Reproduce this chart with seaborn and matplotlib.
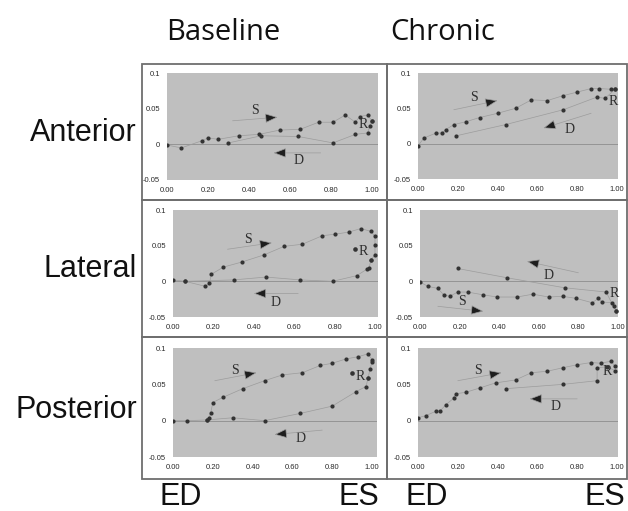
import pandas as pd
import seaborn as sns
import matplotlib.pyplot as plt
from matplotlib.patches import Rectangle

# ---- data (x = normalised time ED->ES, y = strain) ----
base_ant_sx = [0.00, 0.07, 0.17, 0.20, 0.25, 0.35, 0.45, 0.55, 0.65, 0.74, 0.81, 0.87, 0.92, 0.94, 0.98, 1.00]
base_ant_sy = [-0.001, -0.005, 0.005, 0.009, 0.007, 0.012, 0.014, 0.020, 0.021, 0.031, 0.031, 0.041, 0.031, 0.039, 0.041, 0.033]
base_ant_dx = [1.00, 0.99, 0.98, 0.92, 0.81, 0.64, 0.46, 0.30]
base_ant_dy = [0.033, 0.026, 0.016, 0.014, 0.002, 0.011, 0.012, 0.002]

chron_ant_sx = [0.00, 0.03, 0.09, 0.12, 0.14, 0.18, 0.24, 0.31, 0.40, 0.49, 0.57, 0.65, 0.73, 0.80, 0.87, 0.91, 0.97, 0.99]
chron_ant_sy = [-0.003, 0.008, 0.015, 0.015, 0.020, 0.027, 0.031, 0.037, 0.043, 0.050, 0.062, 0.061, 0.068, 0.073, 0.078, 0.078, 0.077, 0.077]
chron_ant_dx = [0.99, 0.94, 0.90, 0.73, 0.44, 0.19]
chron_ant_dy = [0.077, 0.064, 0.066, 0.048, 0.027, 0.011]

base_lat_sx = [0.00, 0.06, 0.16, 0.18, 0.19, 0.25, 0.34, 0.45, 0.55, 0.64, 0.74, 0.80, 0.87, 0.93, 0.98, 1.00, 1.00, 1.00, 0.98]
base_lat_sy = [0.002, 0.000, -0.007, -0.003, 0.010, 0.020, 0.027, 0.037, 0.049, 0.052, 0.064, 0.066, 0.069, 0.074, 0.070, 0.063, 0.051, 0.037, 0.030]
base_lat_dx = [0.98, 0.97, 0.96, 0.91, 0.79, 0.63, 0.46, 0.30, 0.06]
base_lat_dy = [0.030, 0.018, 0.017, 0.008, 0.000, 0.002, 0.006, 0.002, 0.000]

chron_lat_sx = [0.00, 0.04, 0.09, 0.12, 0.15, 0.19, 0.24, 0.32, 0.39, 0.49, 0.57, 0.65, 0.72, 0.79, 0.87, 0.90, 0.92, 0.97, 0.98, 0.99]
chron_lat_sy = [-0.001, -0.007, -0.010, -0.019, -0.021, -0.015, -0.015, -0.019, -0.022, -0.022, -0.018, -0.022, -0.021, -0.024, -0.030, -0.024, -0.029, -0.030, -0.035, -0.042]
chron_lat_dx = [0.99, 0.94, 0.73, 0.44, 0.19]
chron_lat_dy = [-0.042, -0.015, -0.009, 0.005, 0.018]

base_post_sx = [0.00, 0.07, 0.17, 0.18, 0.19, 0.20, 0.25, 0.35, 0.46, 0.55, 0.65, 0.74, 0.80, 0.87, 0.93, 0.98, 1.00, 1.00, 0.99, 0.98]
base_post_sy = [0.000, 0.000, 0.001, 0.003, 0.011, 0.025, 0.032, 0.044, 0.055, 0.063, 0.066, 0.076, 0.079, 0.085, 0.088, 0.092, 0.084, 0.081, 0.071, 0.059]
base_post_dx = [0.98, 0.97, 0.92, 0.80, 0.64, 0.46, 0.30, 0.17]
base_post_dy = [0.059, 0.047, 0.040, 0.020, 0.010, 0.000, 0.004, 0.001]

chron_post_sx = [0.00, 0.04, 0.09, 0.11, 0.14, 0.18, 0.19, 0.24, 0.31, 0.39, 0.49, 0.57, 0.65, 0.73, 0.80, 0.87, 0.92, 0.97, 0.99]
chron_post_sy = [0.004, 0.007, 0.013, 0.013, 0.022, 0.031, 0.037, 0.039, 0.045, 0.052, 0.056, 0.066, 0.068, 0.073, 0.077, 0.080, 0.079, 0.082, 0.075]
chron_post_dx = [0.99, 0.95, 0.90, 0.90, 0.73, 0.44]
chron_post_dy = [0.069, 0.074, 0.073, 0.055, 0.050, 0.044]

# R marker dot (None if no dot) and the S / D / R label positions per panel
r_dots = [None, None, (0.90, 0.045), None, (0.90, 0.066), None]
r_text = [(0.96, 0.028), (0.98, 0.060), (0.94, 0.042), (0.98, -0.017), (0.94, 0.061), (0.95, 0.067)]
s_text = [(0.43, 0.047), (0.28, 0.066), (0.37, 0.058), (0.21, -0.028), (0.31, 0.069), (0.30, 0.069)]
d_text = [(0.64, -0.023), (0.76, 0.020), (0.51, -0.029), (0.65, 0.008), (0.64, -0.024), (0.69, 0.019)]
# arrows as (tail, head)
s_arrow = [((0.32, 0.033), (0.54, 0.038)), ((0.18, 0.048), (0.40, 0.061)), ((0.27, 0.045), (0.49, 0.054)),
           ((0.09, -0.035), (0.32, -0.042)), ((0.21, 0.055), (0.42, 0.066)), ((0.20, 0.055), (0.42, 0.066))]
d_arrow = [((0.75, -0.012), (0.52, -0.012)), ((0.87, 0.043), (0.63, 0.022)), ((0.62, -0.017), (0.40, -0.017)),
           ((0.80, 0.012), (0.54, 0.028)), ((0.75, -0.013), (0.51, -0.019)), ((0.80, 0.030), (0.56, 0.030))]

col_titles = ["Baseline", "Chronic"]
row_titles = ["Anterior", "Lateral", "Posterior"]
x_ticks = [0.0, 0.2, 0.4, 0.6, 0.8, 1.0]
x_ticklabels = ["0.00", "0.20", "0.40", "0.60", "0.80", "1.00"]
y_ticks = [0.1, 0.05, 0.0, -0.05]
y_ticklabels = ["0.1", "0.05", "0", "-0.05"]

panels = [
    (base_ant_sx, base_ant_sy, base_ant_dx, base_ant_dy),
    (chron_ant_sx, chron_ant_sy, chron_ant_dx, chron_ant_dy),
    (base_lat_sx, base_lat_sy, base_lat_dx, base_lat_dy),
    (chron_lat_sx, chron_lat_sy, chron_lat_dx, chron_lat_dy),
    (base_post_sx, base_post_sy, base_post_dx, base_post_dy),
    (chron_post_sx, chron_post_sy, chron_post_dx, chron_post_dy),
]

# ---- layout (pixels of a 628x511 canvas) ----
W, H = 628, 511
# gray plotting boxes: left, top, right, bottom
boxes = [(167, 73, 378, 180), (418, 73, 618, 179),
         (173, 210, 378, 317), (420, 210, 618, 317),
         (173, 348, 377, 457), (418, 348, 618, 457)]
xmax = [1.03, 1.005, 1.015, 1.0, 1.025, 1.005]
col_edges = [142, 387, 627]
row_edges = [64, 200, 337, 479]

sns.set_theme(style="white")
plt.rcParams['font.family'] = ['Liberation Sans', 'DejaVu Sans']

fig = plt.figure(figsize=(W / 100, H / 100), dpi=100)
fig.patch.set_facecolor("white")

# cell frames
for i in range(2):
    for j in range(3):
        x0, x1 = col_edges[i], col_edges[i + 1]
        y0, y1 = row_edges[j], row_edges[j + 1]
        fig.add_artist(Rectangle((x0 / W, 1 - y1 / H), (x1 - x0) / W, (y1 - y0) / H,
                                 transform=fig.transFigure, fill=False,
                                 edgecolor="#6e6e6e", linewidth=1.3))

gray = "#bfbfbf"
dot = "#333333"
faint = "#9c9c9c"

for k, (sx, sy, dx, dy) in enumerate(panels):
    l, t, r, b = boxes[k]
    ax = fig.add_axes([l / W, 1 - b / H, (r - l) / W, (b - t) / H])
    ax.set_facecolor(gray)
    for sp in ax.spines.values():
        sp.set_visible(False)

    ax.axhline(0, color="#949494", lw=0.7, zorder=1)
    sdf = pd.DataFrame({"x": sx, "y": sy})
    ddf = pd.DataFrame({"x": dx, "y": dy})
    sns.lineplot(data=sdf, x="x", y="y", sort=False, estimator=None, color=faint, lw=0.5, ax=ax, zorder=2)
    sns.lineplot(data=ddf, x="x", y="y", sort=False, estimator=None, color=faint, lw=0.5, ax=ax, zorder=2)
    pts = pd.concat([sdf, ddf])
    sns.scatterplot(data=pts, x="x", y="y", color=dot, s=9, linewidth=0, ax=ax, zorder=3)
    if r_dots[k] is not None:
        ax.scatter([r_dots[k][0]], [r_dots[k][1]], color=dot, s=11, linewidth=0, zorder=3)

    serif = dict(family=["Liberation Serif", "DejaVu Serif"], fontsize=10, color="#2e2e2e",
                 ha="center", va="center")
    ax.text(*s_text[k], "S", **serif)
    ax.text(*d_text[k], "D", **serif)
    ax.text(*r_text[k], "R", **serif)
    for tail, head in (s_arrow[k], d_arrow[k]):
        ax.annotate("", xy=head, xytext=tail,
                    arrowprops=dict(arrowstyle="-|>,head_length=0.65,head_width=0.25",
                                    fc="#1e1e1e", ec=faint, lw=0.5, shrinkA=0, shrinkB=0))

    ax.set_xlim(0, xmax[k])
    ax.set_ylim(-0.05, 0.1)
    ax.set_xticks(x_ticks)
    ax.set_xticklabels(x_ticklabels)
    ax.set_yticks(y_ticks)
    ax.set_yticklabels(y_ticklabels)
    ax.tick_params(length=0, labelsize=5.5, colors="#2a2a2a", pad=5)
    ax.set_xlabel("")
    ax.set_ylabel("")

# column / row titles and ED / ES marks
for xx, name in zip([166, 390], col_titles):
    fig.text(xx / W, 1 - 32 / H, name, fontsize=21, family=["Open Sans", "DejaVu Sans"],
             ha="left", va="center", color="#111111")
row_y = [133, 269, 410]
for name, yy in zip(row_titles, row_y):
    fig.text(137 / W, 1 - yy / H, name, fontsize=22, ha="right", va="center", color="#111111")
for xx, lab, ha in [(160, "ED", "left"), (379, "ES", "right"), (406, "ED", "left"), (625, "ES", "right")]:
    fig.text(xx / W, 1 - 497 / H, lab, fontsize=22, ha=ha, va="center", color="#111111")

fig.savefig("out.png", dpi=100)
